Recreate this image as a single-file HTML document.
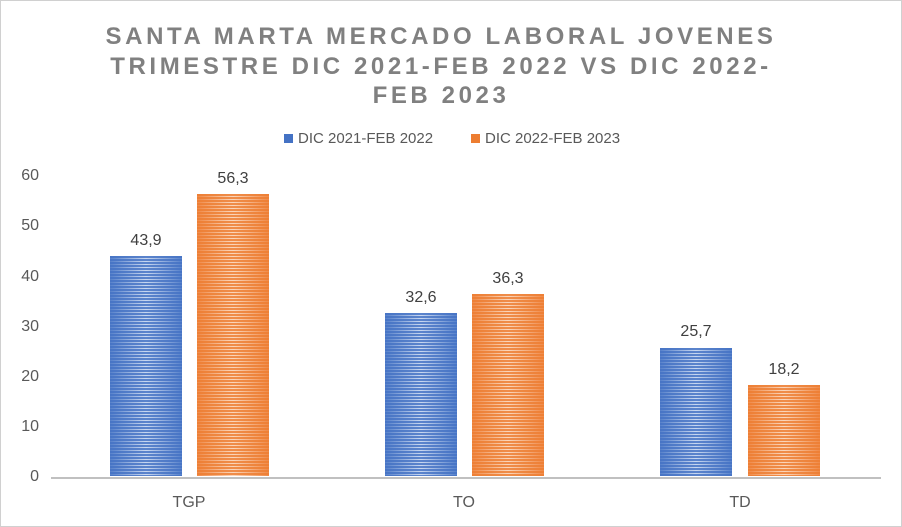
<!DOCTYPE html><html><head><style>
body{margin:0;width:902px;height:527px;background:#fff;font-family:"Liberation Sans",sans-serif;overflow:hidden}
.wrap{position:absolute;left:0;top:0;width:900px;height:525px;border:1px solid #d0d0d0}
.t{position:absolute;left:0;width:880px;text-align:center;color:#808080;font-weight:bold;font-size:24px;letter-spacing:3.6px;line-height:30px}
.bar{position:absolute;bottom:50px;width:72px}
.b{background:repeating-linear-gradient(180deg,rgba(68,114,196,0.85) 0 2px,rgba(68,114,196,0.15) 2px 3px),linear-gradient(90deg,#5a84cc,#e0e9f8 50%,#5a84cc)}
.o{background:repeating-linear-gradient(180deg,rgba(237,125,49,0.85) 0 2px,rgba(237,125,49,0.15) 2px 3px),linear-gradient(90deg,#f08c4c,#fde6d4 50%,#f08c4c)}
.l{position:absolute;font-size:16px;color:#404040;text-align:center;width:80px}
.y{position:absolute;left:10px;width:28px;text-align:right;font-size:16px;color:#595959}
.x{position:absolute;top:493px;font-size:16px;color:#595959;width:80px;text-align:center}
</style></head><body><div class="wrap">
<div class="t" style="top:21px">SANTA MARTA MERCADO LABORAL JOVENES</div>
<div class="t" style="top:51px">TRIMESTRE DIC 2021-FEB 2022 VS DIC 2022-</div>
<div class="t" style="top:80px">FEB 2023</div>
<div style="position:absolute;top:129px;left:283px;font-size:15px;color:#595959"><span style="display:inline-block;width:9px;height:9px;background:#4472c4;margin-right:5px"></span>DIC 2021-FEB 2022</div>
<div style="position:absolute;top:129px;left:470px;font-size:15px;color:#595959"><span style="display:inline-block;width:9px;height:9px;background:#ed7d31;margin-right:5px"></span>DIC 2022-FEB 2023</div>
<div class="y" style="top:166px">60</div><div class="y" style="top:216px">50</div><div class="y" style="top:267px">40</div><div class="y" style="top:317px">30</div><div class="y" style="top:367px">20</div><div class="y" style="top:417px">10</div><div class="y" style="top:467px">0</div>
<div style="position:absolute;left:50px;top:476px;width:830px;height:2px;background:#c0c0c0"></div>
<div class="bar b" style="left:109px;height:220px"></div>
<div class="bar o" style="left:196px;height:282px"></div>
<div class="bar b" style="left:384px;height:163px"></div>
<div class="bar o" style="left:471px;height:182px"></div>
<div class="bar b" style="left:659px;height:128px"></div>
<div class="bar o" style="left:747px;height:91px"></div>
<div class="l" style="left:105px;top:231px">43,9</div>
<div class="l" style="left:192px;top:169px">56,3</div>
<div class="l" style="left:380px;top:288px">32,6</div>
<div class="l" style="left:467px;top:269px">36,3</div>
<div class="l" style="left:655px;top:322px">25,7</div>
<div class="l" style="left:743px;top:360px">18,2</div>
<div class="x" style="left:148px">TGP</div>
<div class="x" style="left:423px">TO</div>
<div class="x" style="left:699px">TD</div>
</div></body></html>
